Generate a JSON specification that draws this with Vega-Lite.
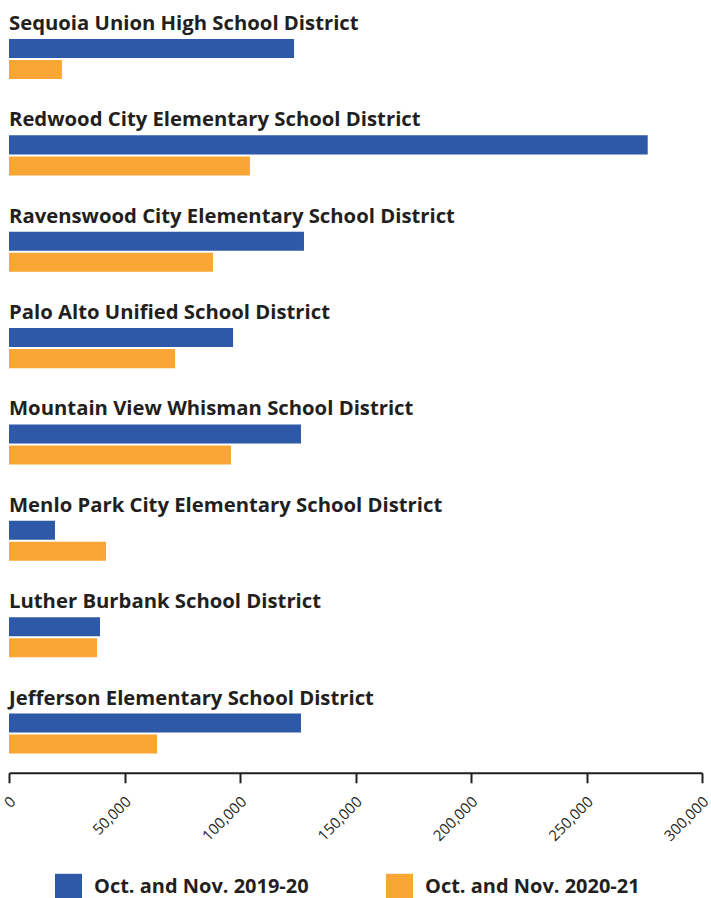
{
  "$schema": "https://vega.github.io/schema/vega-lite/v6.json",
  "autosize": "none",
  "padding": {"left": 9, "top": 19.8, "right": 9, "bottom": 126},
  "width": 693,
  "height": 753,
  "config": {"view": {"stroke": null}, "font": "Open Sans"},
  "data": {
    "values": [
      {"district": "Sequoia Union High School District", "period": "Oct. and Nov. 2019-20", "visits": 123400},
      {"district": "Sequoia Union High School District", "period": "Oct. and Nov. 2020-21", "visits": 22900},
      {"district": "Redwood City Elementary School District", "period": "Oct. and Nov. 2019-20", "visits": 276500},
      {"district": "Redwood City Elementary School District", "period": "Oct. and Nov. 2020-21", "visits": 104300},
      {"district": "Ravenswood City Elementary School District", "period": "Oct. and Nov. 2019-20", "visits": 127700},
      {"district": "Ravenswood City Elementary School District", "period": "Oct. and Nov. 2020-21", "visits": 88300},
      {"district": "Palo Alto Unified School District", "period": "Oct. and Nov. 2019-20", "visits": 97000},
      {"district": "Palo Alto Unified School District", "period": "Oct. and Nov. 2020-21", "visits": 71900},
      {"district": "Mountain View Whisman School District", "period": "Oct. and Nov. 2019-20", "visits": 126400},
      {"district": "Mountain View Whisman School District", "period": "Oct. and Nov. 2020-21", "visits": 96100},
      {"district": "Menlo Park City Elementary School District", "period": "Oct. and Nov. 2019-20", "visits": 19900},
      {"district": "Menlo Park City Elementary School District", "period": "Oct. and Nov. 2020-21", "visits": 42000},
      {"district": "Luther Burbank School District", "period": "Oct. and Nov. 2019-20", "visits": 39400},
      {"district": "Luther Burbank School District", "period": "Oct. and Nov. 2020-21", "visits": 38100},
      {"district": "Jefferson Elementary School District", "period": "Oct. and Nov. 2019-20", "visits": 126400},
      {"district": "Jefferson Elementary School District", "period": "Oct. and Nov. 2020-21", "visits": 64100}
    ]
  },
  "encoding": {
    "y": {"field": "district", "type": "nominal", "sort": null, "axis": null, "scale": {"paddingInner": 0.186, "paddingOuter": 0}}
  },
  "layer": [
    {
      "mark": {"type": "bar"},
      "encoding": {
        "x": {
          "field": "visits", "type": "quantitative",
          "scale": {"domain": [0, 300000], "nice": false},
          "axis": {
            "title": null, "grid": false, "values": [0, 50000, 100000, 150000, 200000, 250000, 300000],
            "format": ",d", "labelAngle": -45, "labelFontSize": 15, "labelColor": "#231f20",
            "domainColor": "#231f20", "domainWidth": 2, "tickColor": "#231f20", "tickWidth": 2,
            "tickSize": 10, "labelPadding": 11, "labelOffset": -1.5
          }
        },
        "yOffset": {"field": "period", "type": "nominal", "sort": null, "scale": {"paddingInner": 0.095, "paddingOuter": 0.914}},
        "color": {
          "field": "period", "type": "nominal",
          "scale": {"domain": ["Oct. and Nov. 2019-20", "Oct. and Nov. 2020-21"], "range": ["#2d59a7", "#faa634"]},
          "legend": {
            "orient": "none", "legendX": 46, "legendY": 854, "direction": "horizontal", "title": null,
            "symbolType": "square", "symbolSize": 729, "symbolStrokeWidth": 0, "symbolOpacity": 1,
            "labelFontSize": 20, "labelFontWeight": "bold", "labelColor": "#231f20", "labelOffset": 12,
            "columnPadding": 77, "labelLimit": 400, "padding": 0
          }
        }
      }
    },
    {
      "transform": [{"filter": "datum.period == 'Oct. and Nov. 2019-20'"}],
      "mark": {"type": "text", "align": "left", "baseline": "alphabetic", "dy": -29, "fontSize": 20.3, "fontWeight": "bold", "color": "#231f20"},
      "encoding": {
        "x": {"datum": 0},
        "text": {"field": "district", "type": "nominal"}
      }
    }
  ]
}
